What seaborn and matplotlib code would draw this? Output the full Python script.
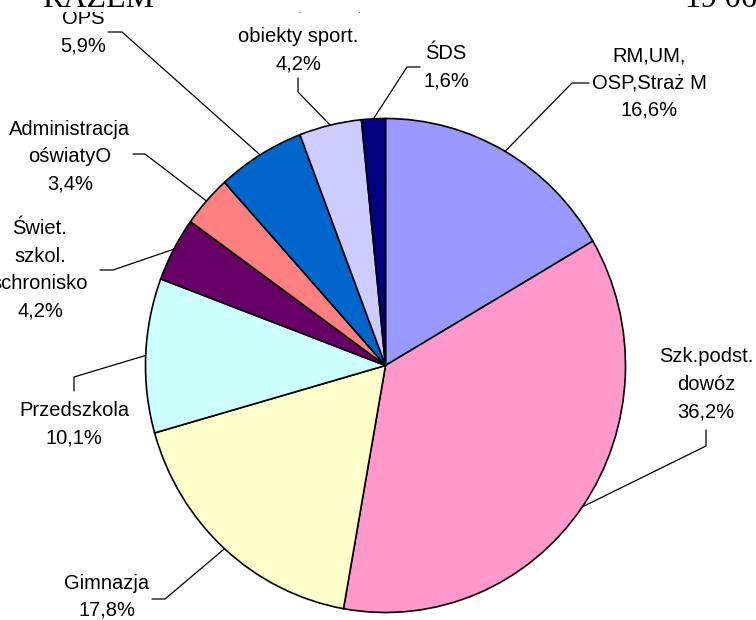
import numpy as np
import matplotlib.pyplot as plt
import seaborn as sns
from matplotlib.patches import Rectangle

# data
labels = ["RM,UM,\nOSP,Straż M", "Szk.podst.\ndowóz", "Gimnazja", "Przedszkola",
          "Świet.\nszkol.\nschronisko", "Administracja\noświatyO", "OPS",
          "Kultura, OSiR,\nobiekty sport.", "ŚDS"]
shares = [16.6, 36.2, 17.8, 10.1, 4.2, 3.4, 5.9, 4.2, 1.6]
colors = ["#9999FF", "#FF99CC", "#FFFFCC", "#CCFFFF", "#660066",
          "#FF8080", "#0066CC", "#CCCCFF", "#000080"]

# layout (pixels from top-left): label centre of first line, leader elbow + end
label_pos = [(649, 54), (706, 355), (107, 582), (74, 409), (40, 227),
             (70, 128), (83, 17), (298, 7), (446, 52)]
first_lift = [0, 0, 0, 0, 0, 0, 0, 4, 0]
leaders = [[(572, 83), (589, 83)], [(706, 446), (706, 430)], [(165, 599), (152, 599)],
           [(74, 377), (74, 391)], [(113, 270), (100, 270)], [(145, 154), (133, 154)],
           [(122, 32), (108, 32)], [(298, 92), (298, 78)], [(407, 67), (420, 67)]]

sns.set_theme(style="white")
plt.rcParams["font.family"] = ["Liberation Sans", "DejaVu Sans"]

W, H = 756, 620
fig = plt.figure(figsize=(W / 100, H / 100), dpi=100)
ax = fig.add_axes([0, 0, 1, 1])
wedges, _ = ax.pie(shares, colors=colors, startangle=90, counterclock=False,
                   wedgeprops=dict(edgecolor="black", linewidth=1.2))
# pie centre at (385.5, 365.5) px, slightly elliptical radii
cx, cy, rx, ry = 385.5, 365.5, 240, 247
ax.set_aspect("auto")
ax.set_xlim(-cx / rx, (W - cx) / rx)
ax.set_ylim(-(H - cy) / ry, cy / ry)
ax.axis("off")

lab = fig.add_axes([0, 0, 1, 1])
lab.set_xlim(0, W)
lab.set_ylim(H, 0)
lab.axis("off")
lab.patch.set_alpha(0)

fs = 14.5
for w, text, pct, (lx, ly), lift, path in zip(wedges, labels, shares, label_pos,
                                              first_lift, leaders):
    th = np.deg2rad((w.theta1 + w.theta2) / 2)
    disp = ax.transData.transform((np.cos(th) * w.r, np.sin(th) * w.r))
    ex, ey = lab.transData.inverted().transform(disp)
    xs = [ex] + [p[0] for p in path]
    ys = [ey] + [p[1] for p in path]
    lab.plot(xs, ys, color="black", lw=0.9)
    lines = text.split("\n") + [f"{pct:.1f}%".replace(".", ",")]
    gap = 27 if len(lines) == 2 and ly > 500 else 27.5
    for i, s in enumerate(lines):
        y = ly + i * gap + 7 - (lift if i == 0 else 0)
        lab.text(lx, y, s, ha="center", va="baseline", fontsize=fs, color="black")

# the header strip hides the top of the chart area
fig.add_artist(Rectangle((0, 1 - 12 / H), 1, 12 / H, transform=fig.transFigure,
                         facecolor="white", edgecolor="none", zorder=5))
fig.text(42 / W, 1 - 7 / H, "RAZEM", ha="left", va="baseline", fontsize=23,
         family="Liberation Serif", color="black", zorder=6)
fig.text(685 / W, 1 - 7 / H, "19 068", ha="left", va="baseline", fontsize=23,
         family="Liberation Serif", color="black", zorder=6)

fig.savefig("out.png", dpi=100)
plt.close(fig)
